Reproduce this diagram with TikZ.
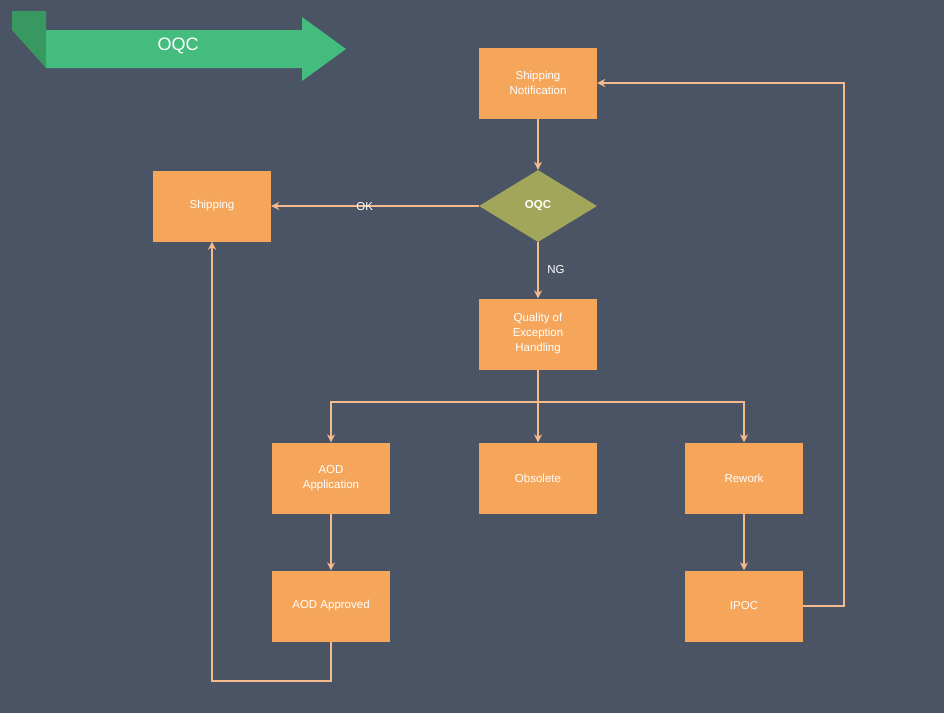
\documentclass[tikz,border=0pt]{standalone}
\usepackage{fontspec}
\setmainfont{Liberation Sans}
\usetikzlibrary{shapes.geometric,arrows.meta}
\definecolor{bg}{HTML}{4A5465}
\definecolor{boxc}{HTML}{F5A65B}
\definecolor{diac}{HTML}{A2A65A}
\definecolor{linec}{HTML}{F5BA8C}
\definecolor{bannerc}{HTML}{43BC7D}
\definecolor{foldc}{HTML}{37995F}
\begin{document}
\begin{tikzpicture}[x=1pt,y=-1pt,
    proc/.style={rectangle,fill=boxc,minimum width=118pt,minimum height=71pt,
                 text=white,align=center,font=\fontsize{11.5}{15}\selectfont,inner sep=1pt},
    decide/.style={diamond,fill=diac,minimum width=118pt,minimum height=72pt,aspect=1.64,
                 text=white,font=\bfseries\fontsize{11.5}{14}\selectfont,inner sep=0pt},
    flow/.style={draw=linec,line width=1.6pt,-{Stealth[length=8pt,width=8pt]}},
    lbl/.style={text=white,font=\fontsize{11.5}{14}\selectfont}]
\fill[bg] (0,0) rectangle (944,713);
% banner
\fill[foldc] (12,11) -- (46,11) -- (46,68) -- (12,30) -- cycle;
\fill[bannerc] (46,30) -- (302,30) -- (302,17) -- (346,49) -- (302,81) -- (302,68) -- (46,68) -- cycle;
\node[text=white,font=\fontsize{18}{20}\selectfont] (title) at (178,46) {OQC};
\begin{scope}
    \node[proc] (notify) at (538,83) {Shipping\\Notification};
    \node[proc] (ship) at (212,206) {Shipping};
    \node[decide] (oqc) at (538,206) {OQC};
    \node[proc] (qeh) at (538,334) {Quality of\\Exception\\Handling};
    \node[proc] (aodapp) at (331,478) {AOD\\Application};
    \node[proc] (obs) at (538,478) {Obsolete};
    \node[proc] (rework) at (744,478) {Rework};
    \node[proc] (aodok) at (331,606) {AOD Approved};
    \node[proc] (ipoc) at (744,606) {IPOC};
\end{scope}
\coordinate (bus) at (538,402);
\draw[flow] (notify) -- (oqc);
\draw[flow] (oqc) -- node[lbl,pos=0.55,yshift=-1pt] {OK} (ship);
\draw[flow] (oqc) -- (qeh);
\node[lbl] (ng) at (556,270) {NG};
\draw[flow] (qeh) -- (obs);
\draw[flow] (bus) -| (aodapp);
\draw[flow] (bus) -| (rework);
\draw[flow] (aodapp) -- (aodok);
\draw[flow] (rework) -- (ipoc);
\draw[flow] (ipoc.east) -- ++(41,0) |- (notify.east);
\draw[flow] (aodok.south) -- ++(0,39) -| (ship.south);
\end{tikzpicture}
\end{document}
